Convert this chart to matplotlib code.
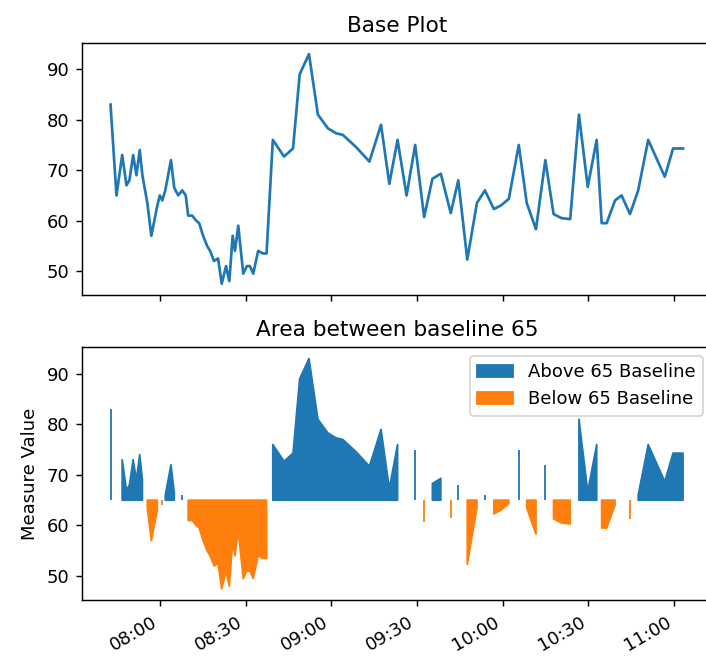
"""
Base line plot of the measure, and the same series split into areas
above / below the 65 baseline.
"""

import matplotlib

matplotlib.use("Agg")
import matplotlib.dates as mdates
import matplotlib.pyplot as plt
import numpy as np
import pandas as pd

DAY = "2021-01-01"
BASELINE = 65

TIMES = [
    "07:42:45", "07:44:50", "07:46:50", "07:48:20", "07:49:22", "07:50:40",
    "07:51:49", "07:52:58", "07:53:54", "07:55:38", "07:57:02", "07:59:08",
    "08:00:00", "08:00:52", "08:01:55", "08:03:54", "08:05:03", "08:06:27",
    "08:07:50", "08:09:04", "08:09:56", "08:11:19", "08:12:43", "08:13:46",
    "08:15:09", "08:16:33", "08:17:36", "08:18:59", "08:20:23", "08:21:40",
    "08:23:10", "08:24:19", "08:25:30", "08:26:18", "08:27:27", "08:29:12",
    "08:30:29", "08:31:32", "08:32:41", "08:34:25", "08:36:04", "08:37:21",
    "08:39:33", "08:43:29", "08:46:37", "08:48:57", "08:52:12", "08:55:20",
    "08:58:49", "09:01:45", "09:04:02", "09:08:49", "09:13:21", "09:17:25",
    "09:20:19", "09:23:12", "09:26:21", "09:29:22", "09:32:30", "09:35:24",
    "09:38:20", "09:41:49", "09:44:27", "09:47:36", "09:50:59", "09:53:46",
    "09:56:54", "09:59:20", "10:02:08", "10:05:37", "10:08:24", "10:11:38",
    "10:14:55", "10:17:48", "10:20:35", "10:23:37", "10:26:41", "10:29:45",
    "10:32:53", "10:34:38", "10:36:23", "10:39:18", "10:41:36", "10:44:32",
    "10:47:25", "10:50:55", "10:56:43", "10:59:37", "11:03:06",
]

VALUES = [
    83, 65, 73, 67, 68, 73,
    69, 74, 69, 63.5, 57, 63,
    65, 64, 66, 72, 66.5, 65,
    66, 65, 61, 61, 60, 59.5,
    57, 55, 54, 52, 52.5, 47.5,
    51, 48, 57, 54, 59, 49.5,
    51, 51, 49.5, 54, 53.5, 53.5,
    76, 72.7, 74.3, 89, 93, 81,
    78.3, 77.3, 77, 74.5, 71.7, 79,
    67.3, 76, 65, 75, 60.7, 68.3,
    69.3, 61.5, 68, 52.3, 63.5, 66,
    62.3, 63, 64.3, 75, 63.5, 58.3,
    72, 61.3, 60.5, 60.3, 81, 66.7,
    76, 59.5, 59.5, 64, 65, 61.3,
    66, 76, 68.7, 74.3, 74.3,
]

DPI = 130


def main() -> None:
    t = pd.to_datetime([f"{DAY} {s}" for s in TIMES]).to_numpy()
    y = np.asarray(VALUES, dtype=float)

    fig, (ax1, ax2) = plt.subplots(2, 1, sharex=True,
                                   figsize=(706 / DPI, 656 / DPI), dpi=DPI)

    ax1.plot(t, y)
    ax1.set_title("Base Plot")

    ax2.fill_between(t, y, BASELINE, where=y > BASELINE, color="C0",
                     label=f"Above {BASELINE} Baseline")
    ax2.fill_between(t, y, BASELINE, where=y < BASELINE, color="C1",
                     label=f"Below {BASELINE} Baseline")
    ax2.set_title(f"Area between baseline {BASELINE}")
    ax2.set_ylabel("Measure Value")
    ax2.legend(loc="upper right")

    ax2.xaxis.set_major_locator(mdates.MinuteLocator(byminute=[0, 30]))
    ax2.xaxis.set_major_formatter(mdates.DateFormatter("%H:%M"))
    fig.autofmt_xdate()

    # the original is cropped on the right, so the axes run past the edge
    ax1.set_position([0.116, 0.550, 0.892, 0.385])
    ax2.set_position([0.116, 0.085, 0.892, 0.386])

    fig.savefig("out.png", dpi=DPI)
    plt.close(fig)


if __name__ == "__main__":
    main()
